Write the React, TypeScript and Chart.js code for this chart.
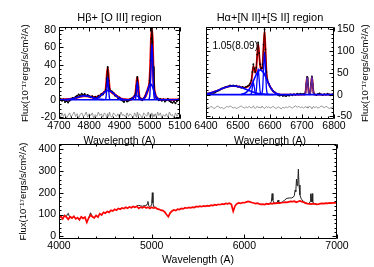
import React, { useEffect, useRef } from 'react';
import { Chart, registerables } from 'chart.js';

Chart.register(...registerables);

const W = 374;
const H = 267;
const FONT_FAMILY = '"Liberation Sans", Arial, Helvetica, sans-serif';

const TITLE_HB = 'Hβ+ [O III] region';
const TITLE_HA = 'Hα+[N II]+[S II] region';
const FLUX_LABEL = 'Flux(10⁻¹⁷ergs/s/cm²/A)';
const WAVE_LABEL = 'Wavelength (A)';
const ANNOT_TEXT = '1.05(8.09)';
const ANNOT_WAVE = 6420;
const ANNOT_FLUX = 112;
const FLUX_FONT = 9.5;

// ---------- Hβ + [O III] panel ----------
const hbXTicks = [4700, 4800, 4900, 5000, 5100];
const hbYTicks = [-20, 0, 20, 40, 60, 80];

const hbObsWave = [4700,4705,4710,4715,4720,4725,4730,4735,4740,4745,4750,4755,4760,4765,4770,4775,4780,4785,4790,4795,4800,4805,4810,4815,4820,4825,4830,4835,4840,4845,4850,4855,4858,4861,4864,4867,4870,4875,4880,4885,4890,4895,4900,4905,4910,4915,4920,4925,4930,4935,4940,4945,4950,4953,4956,4959,4962,4965,4970,4975,4980,4985,4990,4995,5000,5003,5005,5007,5009,5011,5014,5018,5022,5026,5030,5035,5040,5045,5050,5055,5060,5065,5070,5075,5080,5085,5090,5095,5100];
const hbObsFlux = [-0.5,1.2,-1.0,0.5,-2.5,-1.5,-3.0,-1.0,0.5,2.0,1.0,3.5,4.5,6.0,5.0,7.0,5.5,6.5,4.5,5.5,4.0,3.0,4.0,2.0,3.5,2.0,4.5,3.5,6.5,6.0,9.0,11.5,24.0,37.5,22.0,12.5,10.0,9.5,8.0,5.0,4.5,2.0,2.5,0.0,-1.0,-2.5,-0.5,-2.0,-1.0,0.5,1.5,2.0,4.5,6.5,16.0,26.0,14.0,3.0,1.5,-0.5,1.5,4.0,8.5,12.0,22.0,45,70,82,66,38,15,6.5,2.0,1.5,-0.5,1.0,-1.0,0.5,-2.0,-0.5,1.0,-1.5,-2.5,-3.5,-2.0,-4.0,-1.5,0.5,-1.0];
const hbResid = [-17,-20,-15,-19,-16,-21,-18,-15,-20,-17,-14,-19,-16,-21,-17,-15,-19,-18,-14,-20,-16,-18,-15,-21,-17,-19,-14,-18,-16,-20,-15,-17,-21,-16,-19,-14,-18,-20,-15,-17,-19,-16,-21,-14,-18,-17,-20,-15,-19,-16,-18,-21,-15,-17,-20,-14,-19,-16,-18,-21,-15,-17,-19,-14,-20,-16,-18,-15,-21,-17,-19,-16,-20,-14,-18,-15,-21,-17,-19,-16,-20,-14,-18,-17,-21,-15,-19,-16,-18];

const hbModelWave = [4700,4710,4720,4730,4740,4750,4760,4770,4780,4790,4800,4810,4820,4830,4840,4850,4855,4858,4861,4864,4867,4870,4880,4890,4900,4910,4920,4930,4940,4945,4950,4953,4956,4959,4962,4965,4970,4975,4980,4985,4990,4995,5000,5003,5005,5007,5009,5011,5014,5018,5022,5026,5030,5040,5050,5060,5070,5080,5090,5100];
const hbModelFlux = [0.0,0.1,0.2,0.4,0.9,1.7,2.7,3.8,4.4,4.4,3.8,3.0,2.7,3.6,5.8,8.7,11.2,22.9,36.4,23.2,11.8,9.9,7.3,4.2,1.9,0.7,0.2,0.0,0.9,2.3,4.1,5.9,15.2,25.4,13.6,3.5,1.0,0.6,1.3,3.6,7.7,13.1,21.4,44.3,68.8,80.6,66.2,39.4,14.0,5.8,3.0,1.3,0.5,0,0,0,0,0,0,0];

const hbContWave = [4700, 5100];
const hbContFlux = [0, 0];
const hbBumpWave = [4720,4730,4740,4750,4760,4770,4780,4790,4800,4810,4820,4830,4840,4850];
const hbBumpFlux = [0.15,0.4,0.9,1.7,2.7,3.8,4.4,4.4,3.8,2.7,1.7,0.9,0.4,0.15];
const hbBroadWave = [4810,4820,4830,4840,4850,4860,4870,4880,4890,4900,4910,4920];
const hbBroadFlux = [0.3,1.0,2.7,5.4,8.5,10.4,9.9,7.3,4.2,1.9,0.7,0.2];
const hbNarrowWave = [4852,4855,4858,4861,4864,4867,4870];
const hbNarrowFlux = [0,1.5,12.7,26,12.7,1.5,0];
const o3aNarrowWave = [4950,4953,4956,4959,4962,4965,4968];
const o3aNarrowFlux = [0,1.2,10.2,21,10.2,1.2,0];
const o3aBroadWave = [4935,4940,4945,4950,4955,4960,4965,4970,4975];
const o3aBroadFlux = [0.2,0.9,2.3,4.1,5,4.1,2.3,0.9,0.2];
const o3bNarrowWave = [4996,5000,5003,5005,5007,5009,5011,5014,5018];
const o3bNarrowFlux = [0,4.2,26.3,51.2,64,51.2,26.3,4.2,0];
const o3bBroadWave = [4975,4980,4985,4990,4995,5000,5003,5005,5007,5009,5011,5014,5018,5022,5026,5030,5035];
const o3bBroadFlux = [0.4,1.3,3.6,7.7,13.1,17.2,18,17.6,16.6,15,13.1,9.8,5.8,3.0,1.3,0.5,0.1];

// ---------- Hα + [N II] + [S II] panel ----------
const haXTicks = [6400, 6500, 6600, 6700, 6800];
const haYTicks = [-50, 0, 50, 100, 150];

const haObsWave = [6400,6405,6410,6415,6420,6425,6430,6435,6440,6445,6450,6455,6460,6465,6470,6475,6480,6485,6490,6495,6500,6505,6510,6515,6520,6525,6530,6535,6538,6542,6545,6548,6551,6554,6557,6560,6563,6566,6569,6572,6575,6577,6580,6583,6586,6589,6592,6596,6600,6605,6610,6615,6620,6625,6630,6635,6640,6645,6650,6655,6660,6665,6670,6675,6680,6685,6690,6695,6700,6705,6708.5,6711,6713.5,6716,6718.5,6721,6723.5,6726,6728.5,6731,6733.5,6736,6738.5,6745,6750,6755,6760,6765,6770,6775,6780,6785,6790,6795,6800];
const haObsFlux = [-1.5,1.0,-0.5,2.0,1.0,4.0,5.5,8.0,9.5,12.0,14.5,15.0,17.0,18.5,19.0,21.0,20.0,21.5,19.5,20.5,18.0,19.0,16.0,17.5,15.0,18.0,19.5,22.0,26.0,33.0,52.0,70.0,60.0,52.0,62.0,92.0,120.0,96.0,70.0,60.0,61.0,70.0,115.0,150.0,104.0,52.0,34.0,25.0,19.0,13.0,8.0,5.0,2.0,-1.0,-2.5,-1.0,-3.0,-2.0,-3.5,-1.5,-2.5,0.5,-1.5,1.0,-0.5,2.0,0.5,2.5,1.0,1.5,1.0,6.0,25.0,41.0,23.0,6.0,1.5,6.5,26.0,42.0,24.0,5.0,1.5,-1.0,1.5,3.0,0.5,-1.0,1.0,0.0,2.5,0.5,-1.5,1.0,0.0];
const haResid = [-30,-28,-31,-27,-29,-32,-30,-26,-28,-31,-29,-33,-30,-27,-29,-26,-28,-31,-29,-32,-30,-28,-26,-29,-31,-28,-30,-27,-29,-31,-28,-26,-30,-32,-29,-27,-30,-28,-31,-29,-26,-28,-30,-32,-29,-27,-30,-28,-31,-29,-27,-30,-32,-28,-30,-33,-29,-31,-28,-30,-27,-29,-31,-28,-26,-29,-27,-30,-28,-31,-29,-27,-30,-28,-31,-29,-26,-28,-30,-32,-29,-27,-30,-28,-31,-29,-26,-28,-30,-27,-29,-32,-30,-28,-31];

const haModelWave = [6400,6410,6420,6430,6440,6450,6460,6470,6480,6490,6500,6510,6520,6530,6536,6542,6545,6548,6551,6554,6557,6560,6563,6566,6569,6572,6575,6577,6580,6583,6586,6589,6592,6596,6600,6610,6620,6630,6640,6660,6680,6700,6705,6708.5,6711,6713.5,6716,6718.5,6721,6723.5,6726,6728.5,6731,6733.5,6736,6738.5,6745,6760,6780,6800];
const haModelFlux = [2.1,3.4,5.3,7.8,10.6,13.6,16.5,18.6,19.8,19.8,18.6,17.1,16.1,18.3,22.3,32.4,49.6,64.9,58.4,50.4,58.6,90.1,116.6,94.9,67.3,59.3,59.6,68.3,111.0,145.2,101.7,50.2,32.7,24.9,18.8,7.8,2.5,0.6,0,0,0,0,0,0.4,5.4,24.3,40,24.3,5.4,0.9,5.5,24.9,41,24.9,5.5,0.5,0,0,0,0];

const haContWave = [6400, 6800];
const haContFlux = [0, 0];
const haBumpWave = [6400,6410,6420,6430,6440,6450,6460,6470,6480,6490,6500,6510,6520,6530,6540,6550,6560,6570,6580,6590,6600,6610];
const haBumpFlux = [2.1,3.4,5.3,7.8,10.6,13.6,16.5,18.6,19.8,19.8,18.6,16.5,13.6,10.6,7.8,5.3,3.4,2.1,1.2,0.6,0.3,0.1];
const haBroadWave = [6510,6520,6530,6540,6550,6560,6570,6580,6590,6600,6610,6620,6630];
const haBroadFlux = [0.6,2.5,7.7,18.5,34.6,50.3,57,50.3,34.6,18.5,7.7,2.5,0.6];
const n2aWave = [6539,6542,6545,6548,6551,6554,6557];
const n2aFlux = [0.3,3.8,17,28,17,3.8,0.3];
const haNarrowWave = [6554,6557,6560,6563,6566,6569,6572];
const haNarrowFlux = [0.7,8.1,36.4,60,36.4,8.1,0.7];
const n2bWave = [6574,6577,6580,6583,6586,6589,6592];
const n2bFlux = [1.1,13.2,59.5,98,59.5,13.2,1.1];
const s2Wave = [6706,6708.5,6711,6713.5,6716,6718.5,6721,6723.5,6726,6728.5,6731,6733.5,6736,6738.5,6741];
const s2Flux = [0,0.4,5.4,24.3,40,24.3,5.4,0.9,5.5,24.9,41,24.9,5.5,0.5,0];

// ---------- full spectrum panel ----------
const specXTicks = [4000, 5000, 6000, 7000];
const specYTicks = [0, 100, 200, 300, 400];

const specWave = [4000,4020,4040,4060,4080,4100,4120,4140,4160,4180,4200,4220,4240,4260,4280,4300,4320,4340,4360,4380,4400,4420,4440,4460,4480,4500,4520,4540,4560,4580,4600,4620,4640,4660,4680,4700,4720,4740,4760,4780,4800,4820,4840,4860,4880,4900,4920,4940,4960,4980,5000,5020,5040,5060,5080,5100,5120,5140,5160,5180,5200,5220,5240,5260,5280,5300,5320,5340,5360,5380,5400,5420,5440,5460,5480,5500,5520,5540,5560,5580,5600,5620,5640,5660,5680,5700,5720,5740,5760,5780,5800,5820,5840,5860,5880,5900,5920,5940,5960,5980,6000,6020,6040,6060,6080,6100,6120,6140,6160,6180,6200,6220,6240,6260,6280,6300,6320,6340,6360,6380,6400,6420,6440,6460,6480,6500,6520,6540,6560,6580,6600,6620,6640,6660,6680,6700,6720,6740,6760,6780,6800,6820,6840,6860,6880,6900,6920,6940,6960,6980,7000];
const specModel = [85,92,80,95,88,78,90,84,92,80,86,76,90,82,88,64,84,98,90,85,96,88,104,98,110,106,114,110,120,116,124,120,128,124,130,127,133,129,135,131,137,133,138,128,134,131,136,130,134,128,133,129,132,126,124,120,118,112,100,90,108,116,121,118,125,123,128,126,131,129,133,131,134,132,137,135,138,136,140,138,141,139,143,141,145,143,147,145,149,147,151,149,152,147,115,140,150,153,151,155,154,157,160,158,155,153,150,152,149,147,148,146,150,148,151,149,152,151,153,152,154,155,157,156,158,160,159,161,156,160,162,159,156,152,150,149,148,150,149,147,148,150,151,150,152,151,153,152,154,153,155];

const specObsWave = [4060,4080,4090,4100,4110,4120,4140,4200,4320,4330,4340,4350,4360,4400,4840,4860,4880,4900,4920,4940,4950,4959,4968,4980,4995,5000,5007,5014,5025,5040,5100,6240,6260,6280,6292,6300,6308,6320,6340,6356,6364,6372,6390,6410,6430,6450,6470,6490,6510,6530,6540,6548,6555,6563,6570,6576,6583,6590,6600,6610,6620,6640,6660,6680,6700,6710,6716,6723,6731,6738,6750,6765,6780];
const specObsFlux = [95,90,102,106,92,90,84,null,84,96,108,100,90,null,140,142,140,138,141,140,148,160,140,136,142,150,200,152,134,132,null,150,148,151,160,196,165,153,152,156,166,155,154,158,164,172,175,176,176,180,188,212,205,262,232,240,308,235,190,176,168,160,154,151,150,160,195,158,196,158,150,149,148];

// ---------- helpers ----------
type P = { x: number; y: number | null };
const pts = (w: number[], f: (number | null)[]): P[] => w.map((x, i) => ({ x, y: f[i] }));

const BLUE = '#0000ff';
const RED = '#ff0000';
const GRAY = '#808080';
const BLACK = '#000000';

function ds(data: P[], color: string, width: number, order: number, extra: any = {}) {
  return {
    data,
    borderColor: color,
    backgroundColor: color,
    borderWidth: width,
    pointRadius: 0,
    fill: false,
    order,
    ...extra,
  };
}

function makeFrame(xMajor: number, xMinor: number, yMajor: number, yMinor: number) {
  return {
    id: 'frame',
    afterDatasetsDraw(chart: any) {
      const { ctx, chartArea: a } = chart;
      const xs = chart.scales.x;
      const ys = chart.scales.y;
      const L = Math.round(a.left) + 0.5;
      const R = Math.round(a.right) - 0.5;
      const T = Math.round(a.top) + 0.5;
      const B = Math.round(a.bottom) - 0.5;
      ctx.save();
      ctx.strokeStyle = '#000';
      ctx.lineWidth = 1;
      ctx.beginPath();
      ctx.rect(L, T, R - L, B - T);
      const xt = (step: number, len: number) => {
        for (let v = Math.ceil(xs.min / step - 1e-9) * step; v <= xs.max + 1e-9; v += step) {
          const p = Math.round(xs.getPixelForValue(v)) + 0.5;
          ctx.moveTo(p, B); ctx.lineTo(p, B - len);
          ctx.moveTo(p, T); ctx.lineTo(p, T + len);
        }
      };
      const yt = (step: number, len: number) => {
        for (let v = Math.ceil(ys.min / step - 1e-9) * step; v <= ys.max + 1e-9; v += step) {
          const p = Math.round(ys.getPixelForValue(v)) + 0.5;
          ctx.moveTo(L, p); ctx.lineTo(L + len, p);
          ctx.moveTo(R, p); ctx.lineTo(R - len, p);
        }
      };
      xt(xMinor, 2); xt(xMajor, 4); yt(yMinor, 2); yt(yMajor, 4);
      ctx.stroke();
      ctx.restore();
    },
  };
}

type TextItem = { text: string; size: number; align: CanvasTextAlign; rot: number; px?: number; wave?: number; flux?: number };
function makeText(items: TextItem[]) {
  return {
    id: 'extraText',
    afterDraw(chart: any) {
      const { ctx, chartArea: a } = chart;
      for (const it of items) {
        let x: number; let y: number;
        if (it.wave !== undefined && it.flux !== undefined) {
          x = chart.scales.x.getPixelForValue(it.wave);
          y = chart.scales.y.getPixelForValue(it.flux);
        } else {
          x = it.px as number;
          y = (a.top + a.bottom) / 2;
        }
        ctx.save();
        ctx.font = `${it.size}px ${FONT_FAMILY}`;
        ctx.fillStyle = '#000';
        ctx.translate(x, y);
        ctx.rotate(it.rot);
        ctx.textAlign = it.align;
        ctx.textBaseline = 'middle';
        ctx.fillText(it.text, 0, 0);
        ctx.restore();
      }
    },
  };
}

const tickCb = (v: any) => String(v);

function xAxis(min: number, max: number, ticks: number[], tickPad: number, titlePad: number) {
  return {
    type: 'linear',
    position: 'bottom',
    min,
    max,
    afterBuildTicks: (s: any) => { s.ticks = ticks.map((v) => ({ value: v })); },
    ticks: { callback: tickCb, padding: tickPad, color: '#000', maxRotation: 0, autoSkip: false },
    grid: { display: false, drawTicks: false },
    border: { display: false },
    title: { display: true, text: WAVE_LABEL, color: '#000', padding: { top: titlePad, bottom: 0 } },
  };
}

function yAxis(min: number, max: number, ticks: number[], position: string, showTitle: boolean, tp: number, bp: number) {
  return {
    type: 'linear',
    position,
    min,
    max,
    afterBuildTicks: (s: any) => { s.ticks = ticks.map((v) => ({ value: v })); },
    ticks: { callback: tickCb, padding: 3, color: '#000', autoSkip: false },
    grid: { display: false, drawTicks: false },
    border: { display: false },
    title: { display: showTitle, text: FLUX_LABEL, color: '#000', font: { size: FLUX_FONT }, padding: { top: tp, bottom: bp } },
  };
}

function baseOptions(padding: any, title: string | null) {
  return {
    responsive: false,
    maintainAspectRatio: false,
    devicePixelRatio: 1,
    animation: false,
    events: [],
    layout: { padding },
    plugins: {
      legend: { display: false },
      tooltip: { enabled: false },
      title: title
        ? { display: true, text: title, color: '#000', fullSize: false, font: { size: 11, weight: 'normal' }, padding: { top: 11, bottom: 3 } }
        : { display: false },
    },
  };
}

function hbConfig(): any {
  const mono = { cubicInterpolationMode: 'monotone' };
  return {
    type: 'line',
    data: {
      datasets: [
        ds(pts(hbContWave, hbContFlux), BLUE, 1.6, 0),
        ds(pts(hbBumpWave, hbBumpFlux), BLUE, 1.6, 0, mono),
        ds(pts(hbBroadWave, hbBroadFlux), BLUE, 1.6, 0, mono),
        ds(pts(hbNarrowWave, hbNarrowFlux), BLUE, 1.4, 0, mono),
        ds(pts(o3aBroadWave, o3aBroadFlux), BLUE, 1.4, 0, mono),
        ds(pts(o3aNarrowWave, o3aNarrowFlux), BLUE, 1.4, 0, mono),
        ds(pts(o3bBroadWave, o3bBroadFlux), BLUE, 1.6, 0, mono),
        ds(pts(o3bNarrowWave, o3bNarrowFlux), BLUE, 1.4, 0, mono),
        ds(pts(hbObsWave, hbObsFlux), BLACK, 1, 1, { pointRadius: 1, pointBorderWidth: 0, pointBackgroundColor: BLACK }),
        ds(pts(hbModelWave, hbModelFlux), RED, 2.6, 2, mono),
        ds(pts(hbObsWave, hbResid), GRAY, 0.8, 3),
      ],
    },
    options: {
      ...baseOptions({ left: 10, right: 194, top: 0, bottom: 119.8 }, TITLE_HB),
      scales: {
        x: xAxis(4700, 5100, hbXTicks, 1, 1),
        y: yAxis(-22, 83, hbYTicks, 'left', true, 9.3, 7.1),
      },
    },
    plugins: [makeFrame(100, 20, 20, 5)],
  };
}

function haConfig(): any {
  const mono = { cubicInterpolationMode: 'monotone' };
  return {
    type: 'line',
    data: {
      datasets: [
        ds(pts(haContWave, haContFlux), BLUE, 1.6, 0),
        ds(pts(haBumpWave, haBumpFlux), BLUE, 1.6, 0, mono),
        ds(pts(haBroadWave, haBroadFlux), BLUE, 1.6, 0, mono),
        ds(pts(n2aWave, n2aFlux), BLUE, 1.3, 0, mono),
        ds(pts(haNarrowWave, haNarrowFlux), BLUE, 1.3, 0, mono),
        ds(pts(n2bWave, n2bFlux), BLUE, 1.3, 0, mono),
        ds(pts(s2Wave, s2Flux), '#5a2aa0', 1.5, 0, mono),
        ds(pts(haObsWave, haObsFlux), BLACK, 0.7, 1, { pointRadius: 0.9, pointBorderWidth: 0, pointBackgroundColor: BLACK }),
        ds(pts(haModelWave, haModelFlux), RED, 1.9, 2, mono),
        ds(pts(haObsWave, haResid), GRAY, 0.8, 3),
      ],
    },
    options: {
      ...baseOptions({ left: 206, right: 16.5, top: 0, bottom: 119.8 }, TITLE_HA),
      scales: {
        x: xAxis(6400, 6800, haXTicks, 1, 1),
        y: yAxis(-56, 155, haYTicks, 'right', false, 0, 0),
      },
    },
    plugins: [
      makeFrame(100, 20, 50, 10),
      makeText([
        { text: FLUX_LABEL, size: FLUX_FONT, align: 'center', rot: -Math.PI / 2, px: 365 },
        { text: ANNOT_TEXT, size: 10, align: 'left', rot: 0, wave: ANNOT_WAVE, flux: ANNOT_FLUX },
      ]),
    ],
  };
}

function specConfig(): any {
  return {
    type: 'line',
    data: {
      datasets: [
        ds(pts(specWave, specModel), RED, 1.7, 0),
        ds(pts(specObsWave, specObsFlux), '#222222', 1, 1, { spanGaps: false }),
      ],
    },
    options: {
      ...baseOptions({ left: 8, right: 37, top: 144, bottom: 0.8 }, null),
      scales: {
        x: xAxis(4000, 7000, specXTicks, 1, 0),
        y: yAxis(-12, 423, specYTicks, 'left', true, 9.8, 6.3),
      },
    },
    plugins: [makeFrame(1000, 200, 100, 20)],
  };
}

function ChartCanvas({ make }: { make: () => any }) {
  const ref = useRef<HTMLCanvasElement | null>(null);
  useEffect(() => {
    if (!ref.current) return;
    const chart = new Chart(ref.current, make());
    return () => chart.destroy();
  }, [make]);
  return (
    <canvas
      ref={ref}
      width={W}
      height={H}
      style={{ position: 'absolute', left: 0, top: 0, width: W, height: H }}
    />
  );
}

Chart.defaults.font.family = FONT_FAMILY;
Chart.defaults.font.size = 10.5;
Chart.defaults.color = '#000';

export default function App() {
  return (
    <div style={{ position: 'fixed', left: 0, top: 0, width: W, height: H, background: '#fff', overflow: 'hidden' }}>
      <ChartCanvas make={specConfig} />
      <ChartCanvas make={hbConfig} />
      <ChartCanvas make={haConfig} />
    </div>
  );
}
